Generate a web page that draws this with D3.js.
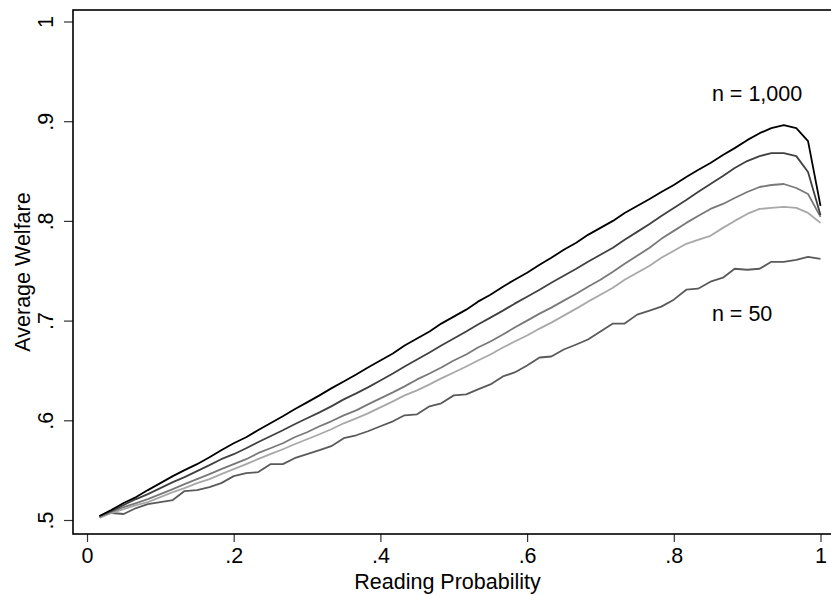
<!DOCTYPE html>
<html>
<head>
<meta charset="utf-8">
<script src="https://cdnjs.cloudflare.com/ajax/libs/d3/7.8.5/d3.min.js"></script>
<style>
    body { margin: 0; background: #fff; }
    svg text { font-family: "Liberation Sans", Arial, sans-serif; fill: #000; }
</style>
</head>
<body>
<svg id="chart" width="831" height="596"></svg>
<script>
// reading probability (x)
var readProb = [0.017, 0.033, 0.050, 0.067, 0.083, 0.100, 0.117, 0.133, 0.150, 0.167,
    0.183, 0.200, 0.217, 0.233, 0.250, 0.267, 0.283, 0.300, 0.317, 0.333,
    0.350, 0.367, 0.383, 0.400, 0.417, 0.433, 0.450, 0.467, 0.483, 0.500,
    0.517, 0.533, 0.550, 0.567, 0.583, 0.600, 0.617, 0.633, 0.650, 0.667,
    0.683, 0.700, 0.717, 0.733, 0.750, 0.767, 0.783, 0.800, 0.817, 0.833,
    0.850, 0.867, 0.883, 0.900, 0.917, 0.933, 0.950, 0.967, 0.983, 1.000]

// average welfare, one array per line
var welfare1000 = [0.504, 0.510, 0.517, 0.523, 0.530, 0.537, 0.544, 0.550, 0.556, 0.563,
    0.570, 0.577, 0.583, 0.590, 0.597, 0.604, 0.611, 0.618, 0.625, 0.632,
    0.639, 0.646, 0.653, 0.660, 0.667, 0.675, 0.682, 0.689, 0.697, 0.704,
    0.711, 0.719, 0.726, 0.734, 0.741, 0.748, 0.756, 0.763, 0.771, 0.778,
    0.786, 0.793, 0.800, 0.808, 0.815, 0.822, 0.829, 0.836, 0.844, 0.851,
    0.858, 0.866, 0.873, 0.881, 0.888, 0.893, 0.896, 0.893, 0.880, 0.815]
var welfareB = [0.504, 0.509, 0.515, 0.521, 0.526, 0.532, 0.538, 0.543, 0.549, 0.555,
    0.561, 0.566, 0.572, 0.578, 0.584, 0.590, 0.596, 0.602, 0.608, 0.614,
    0.621, 0.627, 0.633, 0.640, 0.647, 0.654, 0.661, 0.668, 0.675, 0.682,
    0.689, 0.696, 0.703, 0.710, 0.717, 0.724, 0.731, 0.738, 0.745, 0.752,
    0.759, 0.766, 0.773, 0.781, 0.789, 0.797, 0.805, 0.813, 0.821, 0.829,
    0.837, 0.845, 0.853, 0.860, 0.865, 0.868, 0.868, 0.865, 0.849, 0.806]
var welfareC = [0.503, 0.508, 0.513, 0.517, 0.521, 0.526, 0.531, 0.536, 0.541, 0.546,
    0.551, 0.556, 0.561, 0.567, 0.572, 0.577, 0.583, 0.588, 0.594, 0.599,
    0.605, 0.610, 0.616, 0.622, 0.628, 0.634, 0.641, 0.647, 0.653, 0.660,
    0.666, 0.673, 0.679, 0.686, 0.693, 0.700, 0.707, 0.713, 0.720, 0.727,
    0.734, 0.741, 0.749, 0.757, 0.765, 0.773, 0.782, 0.790, 0.798, 0.805,
    0.812, 0.817, 0.823, 0.829, 0.834, 0.836, 0.837, 0.833, 0.827, 0.804]
var welfareD = [0.502, 0.507, 0.511, 0.515, 0.518, 0.523, 0.528, 0.532, 0.537, 0.541,
    0.546, 0.551, 0.556, 0.561, 0.566, 0.571, 0.576, 0.581, 0.586, 0.591,
    0.597, 0.602, 0.607, 0.613, 0.619, 0.625, 0.630, 0.636, 0.642, 0.648,
    0.654, 0.660, 0.666, 0.673, 0.679, 0.685, 0.692, 0.698, 0.705, 0.712,
    0.719, 0.726, 0.733, 0.741, 0.748, 0.755, 0.763, 0.770, 0.777, 0.781,
    0.785, 0.793, 0.800, 0.807, 0.812, 0.813, 0.814, 0.813, 0.808, 0.798]
var welfare50 = [0.503, 0.507, 0.506, 0.512, 0.516, 0.518, 0.520, 0.529, 0.530, 0.533,
    0.537, 0.544, 0.547, 0.548, 0.556, 0.556, 0.562, 0.566, 0.570, 0.574,
    0.582, 0.585, 0.589, 0.594, 0.599, 0.605, 0.606, 0.614, 0.617, 0.625,
    0.626, 0.631, 0.636, 0.644, 0.648, 0.655, 0.663, 0.664, 0.671, 0.676,
    0.681, 0.689, 0.697, 0.697, 0.706, 0.710, 0.714, 0.721, 0.731, 0.732,
    0.739, 0.743, 0.752, 0.751, 0.752, 0.759, 0.759, 0.761, 0.764, 0.762]

var xTicks = [0, 0.2, 0.4, 0.6, 0.8, 1]
var yTicks = [0.5, 0.6, 0.7, 0.8, 0.9, 1]

var series = [
    { values: welfare50, color: "#5a5a5a" },
    { values: welfareD, color: "#a8a8a8" },
    { values: welfareC, color: "#787878" },
    { values: welfareB, color: "#404040" },
    { values: welfare1000, color: "#000000" }
]

var svg = d3.select('#chart')
var box = { left: 73, top: 10, right: 834, bottom: 534 }
var fontSize = 21.5

var x = d3.scaleLinear().domain([0, 1]).range([87, 820.5])
var y = d3.scaleLinear().domain([0.5, 1]).range([520, 21.5])

// drop the leading zero like ".2"
function fmt(d) {
    return d === 0 ? "0" : d === 1 ? "1" : d3.format(".1f")(d).replace(/^0/, "")
}

svg.append('rect')
    .attr('width', 831).attr('height', 596)
    .attr('fill', '#fff')

// x axis
var xAxis = svg.append('g')
    .attr('transform', 'translate(0,' + box.bottom + ')')
    .call(d3.axisBottom(x).tickValues(xTicks).tickFormat(fmt).tickSize(8).tickPadding(6))
xAxis.select('.domain').remove()
xAxis.selectAll('line').attr('stroke', '#333').attr('stroke-width', 1.2)
xAxis.selectAll('text').attr('font-size', fontSize).attr('fill', '#000')
    .style('font-family', '"Liberation Sans", Arial, sans-serif')

// y axis, labels turned on their side
var yAxis = svg.append('g')
    .attr('transform', 'translate(' + box.left + ',0)')
    .call(d3.axisLeft(y).tickValues(yTicks).tickFormat(fmt).tickSize(9))
yAxis.select('.domain').remove()
yAxis.selectAll('line').attr('stroke', '#333').attr('stroke-width', 1.2)
yAxis.selectAll('text')
    .attr('font-size', fontSize).attr('fill', '#000')
    .style('font-family', '"Liberation Sans", Arial, sans-serif')
    .attr('text-anchor', 'middle')
    .attr('x', 0).attr('y', -20).attr('dy', 0)
    .attr('transform', 'rotate(-90)')

// plot region outline (right edge falls off the page)
svg.append('rect')
    .attr('x', box.left).attr('y', box.top)
    .attr('width', box.right - box.left).attr('height', box.bottom - box.top)
    .attr('fill', 'none').attr('stroke', '#000').attr('stroke-width', 1.6)

var line = d3.line()
    .x(function(d, i) { return x(readProb[i]) })
    .y(function(d) { return y(d) })

svg.selectAll('path.series')
    .data(series)
    .enter()
    .append('path')
    .attr('class', 'series')
    .attr('d', function(d) { return line(d.values) })
    .attr('fill', 'none')
    .attr('stroke', function(d) { return d.color })
    .attr('stroke-width', 1.8)
    .attr('stroke-linejoin', 'round')

// line labels
svg.append('text')
    .attr('x', x(0.852)).attr('y', y(0.92))
    .attr('font-size', fontSize)
    .text('n = 1,000')
svg.append('text')
    .attr('x', x(0.852)).attr('y', y(0.70))
    .attr('font-size', fontSize)
    .text('n = 50')

// axis titles
svg.append('text')
    .attr('x', (box.left + box.right) / 2 - 6).attr('y', 589)
    .attr('text-anchor', 'middle')
    .attr('font-size', fontSize)
    .text('Reading Probability')
svg.append('text')
    .attr('transform', 'translate(30,' + (box.top + box.bottom) / 2 + ') rotate(-90)')
    .attr('text-anchor', 'middle')
    .attr('font-size', fontSize)
    .text('Average Welfare')
</script>
</body>
</html>
